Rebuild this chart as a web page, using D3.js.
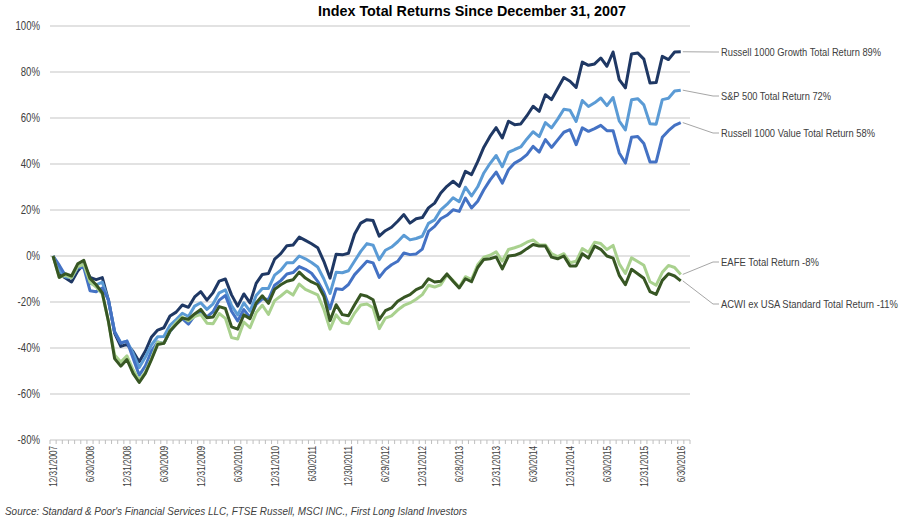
<!DOCTYPE html>
<html>
<head>
<meta charset="utf-8">
<script src="https://cdn.jsdelivr.net/npm/d3@7"></script>
<style>
  html, body { margin: 0; padding: 0; background: #fff; }
  svg { display: block; }
  text { font-family: "Liberation Sans Narrow", "Arial Narrow", "Liberation Sans", sans-serif; }
</style>
</head>
<body>
<svg id="chart" width="904" height="521"></svg>
<script>
// Month-end categories, 12/31/2007 .. 6/30/2016 (103 points), every 6th is labelled
const tickLabels = ["12/31/2007", "6/30/2008", "12/31/2008", "6/30/2009", "12/31/2009",
  "6/30/2010", "12/31/2010", "6/30/2011", "12/30/2011", "6/29/2012", "12/31/2012",
  "6/28/2013", "12/31/2013", "6/30/2014", "12/31/2014", "6/30/2015", "12/31/2015", "6/30/2016"];

const yTicks = [100, 80, 60, 40, 20, 0, -20, -40, -60, -80];

// cumulative total return, %
const growth = [
  0, -7.8, -9.6, -11.3, -6.5, -3.4, -9.3, -10.3, -9.4, -19.3, -33.5, -39.3, -38.4,
  -41.5, -46.0, -41.3, -35.2, -32.2, -31.2, -26.1, -24.4, -21.3, -22.3, -17.8, -15.5,
  -19.2, -15.9, -10.9, -10.0, -16.9, -21.8, -16.5, -20.4, -11.9, -8.0, -7.6, -1.4,
  1.0, 4.5, 4.8, 8.2, 6.8, 5.3, 3.6, -2.3, -9.6, 0.8, 0.5, 1.2,
  9.6, 14.3, 15.8, 15.4, 8.6, 11.0, 12.5, 15.1, 18.0, 14.3, 16.2, 16.7,
  20.9, 23.0, 27.4, 30.3, 32.5, 30.3, 36.8, 35.4, 41.0, 47.3, 52.0, 55.8,
  51.3, 58.6, 57.1, 57.4, 61.0, 65.1, 62.9, 70.1, 68.0, 72.8, 77.6, 76.0,
  73.3, 84.3, 82.9, 83.5, 86.1, 82.5, 88.7, 76.7, 73.1, 87.8, 88.3, 85.6,
  75.2, 75.4, 86.8, 85.4, 88.7, 88.8];

const sp500 = [
  0, -6.0, -9.1, -9.4, -5.0, -3.8, -11.9, -12.6, -11.4, -19.3, -32.8, -37.7, -37.0,
  -42.3, -48.5, -43.9, -38.6, -35.1, -35.0, -30.1, -27.6, -24.9, -26.3, -21.8, -20.3,
  -23.2, -20.8, -16.0, -14.7, -21.5, -25.6, -20.4, -24.0, -17.2, -14.1, -14.1, -8.3,
  -6.2, -2.9, -2.9, 0.0, -1.2, -2.8, -4.8, -10.0, -16.3, -7.1, -7.3, -6.4,
  -2.2, 2.0, 5.4, 4.7, -1.6, 2.5, 3.9, 6.2, 9.0, 7.0, 7.6, 8.6,
  14.2, 15.7, 20.1, 22.4, 25.3, 23.6, 29.9, 26.1, 30.1, 36.1, 40.2, 43.7,
  38.8, 45.1, 46.3, 47.4, 50.9, 54.0, 51.9, 58.0, 55.7, 59.5, 63.8, 63.4,
  58.5, 67.6, 65.0, 66.6, 68.7, 65.4, 68.9, 58.7, 54.8, 67.9, 68.4, 65.7,
  57.5, 57.3, 68.0, 68.6, 71.7, 72.1];

const value = [
  0, -4.0, -8.5, -9.3, -4.9, -5.1, -15.1, -15.5, -13.9, -19.0, -33.0, -37.9, -37.0,
  -44.5, -51.8, -47.8, -41.3, -37.4, -38.0, -32.8, -29.5, -27.2, -29.6, -25.9, -24.4,
  -26.5, -24.2, -19.2, -17.2, -24.0, -28.2, -23.3, -26.7, -21.0, -18.6, -18.9, -12.7,
  -10.7, -7.8, -7.2, -4.6, -5.8, -7.5, -11.0, -15.8, -23.0, -14.2, -14.6, -12.4,
  -8.1, -5.2, -2.3, -3.0, -9.3, -5.9, -3.8, -2.3, 1.3, 0.6, 0.9, 3.0,
  10.7, 12.9, 16.2, 17.7, 20.1, 19.4, 25.2, 20.9, 23.8, 28.8, 33.0, 36.5,
  31.7, 37.5, 40.4, 41.9, 44.1, 47.7, 45.2, 50.6, 47.2, 50.5, 53.8, 54.9,
  48.4, 55.7, 54.2, 55.4, 56.8, 54.5, 54.5, 44.8, 40.4, 51.6, 52.0, 48.9,
  40.9, 40.9, 51.6, 54.5, 56.8, 58.0];

const eafe = [
  0, -9.3, -8.4, -9.5, -4.6, -3.7, -11.3, -13.5, -16.5, -28.6, -43.0, -46.1, -43.4,
  -49.5, -54.0, -50.5, -44.5, -37.5, -38.0, -32.5, -29.0, -26.5, -28.2, -26.3, -25.4,
  -29.2, -29.5, -25.0, -27.1, -35.5, -36.1, -28.7, -31.2, -24.6, -21.4, -25.4, -19.4,
  -17.4, -15.2, -17.0, -12.2, -14.5, -15.7, -16.9, -23.2, -31.8, -25.6, -28.9, -29.5,
  -24.8, -21.3, -20.9, -22.5, -31.6, -27.0, -26.0, -23.5, -21.5, -20.4, -18.8, -16.8,
  -12.7, -13.5, -12.5, -8.2, -10.6, -13.6, -9.0, -10.3, -3.8, -0.5, 0.3, 1.8,
  -2.2, 2.8, 3.6, 4.5, 6.0, 7.0, 4.8, 4.8, 1.0, -0.3, 1.0, -2.9,
  -2.3, 3.2, 1.6, 6.0, 5.4, 2.8, 4.6, -3.4, -7.6, -0.8, -2.4, -4.0,
  -11.2, -12.7, -7.1, -4.1, -5.0, -8.0];

const acwi = [
  0, -9.3, -7.7, -8.7, -3.4, -1.9, -9.8, -12.5, -16.0, -28.5, -44.6, -47.9, -45.0,
  -51.0, -55.0, -51.0, -45.0, -38.5, -38.0, -32.6, -29.8, -27.0, -27.5, -25.2, -23.2,
  -26.8, -26.5, -22.0, -22.8, -30.8, -31.8, -25.6, -27.3, -20.4, -17.3, -20.6, -14.5,
  -12.5, -11.0, -10.3, -7.0, -9.6, -11.3, -12.5, -17.5, -28.1, -21.2, -25.5, -26.0,
  -21.2, -16.8, -17.5, -19.0, -27.7, -23.8, -22.6, -19.7, -18.0, -16.8, -14.6, -13.4,
  -9.9, -11.3, -11.0, -7.8, -11.0, -13.9, -9.9, -11.2, -5.0, -1.5, -1.2, -0.4,
  -5.6, 0.0, 0.3, 1.3, 3.2, 5.0, 4.3, 4.3, -0.5, -1.2, 0.0, -4.3,
  -4.3, 1.0, -0.9, 4.3, 2.9, 0.0, -0.9, -8.4, -12.5, -5.8, -7.7, -9.7,
  -15.5, -16.7, -10.6, -7.7, -8.7, -10.8];

const seriesNames = ["Russell 1000 Growth Total Return 89%", "S&P 500 Total Return 72%",
  "Russell 1000 Value Total Return 58%", "EAFE Total Return -8%",
  "ACWI ex USA Standard Total Return -11%"];

const series = [
  { name: seriesNames[0], values: growth, color: "#1f3864", labelY: 52, w: 160 },
  { name: seriesNames[1], values: sp500, color: "#5b9bd5", labelY: 96, w: 110 },
  { name: seriesNames[2], values: value, color: "#4472c4", labelY: 133, w: 154 },
  { name: seriesNames[3], values: eafe, color: "#a9d18e", labelY: 262, w: 98 },
  { name: seriesNames[4], values: acwi, color: "#375623", labelY: 304, w: 177 }
];

const svg = d3.select("#chart");
const plotLeft = 50, plotRight = 690, plotTop = 26, plotBottom = 440;
// no narrow font installed, so squeeze the regular sans horizontally
const narrow = 0.8;

// one extra empty slot after the last month, like the original axis
const x = d3.scaleBand().domain(d3.range(104)).range([plotLeft, plotRight]);
const cx = i => x(i) + x.bandwidth() / 2;
const y = d3.scaleLinear().domain([-80, 100]).range([plotBottom, plotTop]);

// title
svg.append("text")
  .attr("x", 472).attr("y", 16)
  .attr("text-anchor", "middle")
  .attr("font-size", 15).attr("font-weight", "bold")
  .attr("fill", "#000")
  .attr("textLength", 308).attr("lengthAdjust", "spacingAndGlyphs")
  .text("Index Total Returns Since December 31, 2007");

// gridlines
svg.append("g").selectAll("line")
  .data(yTicks)
  .enter().append("line")
  .attr("x1", plotLeft).attr("x2", plotRight)
  .attr("y1", d => y(d)).attr("y2", d => y(d))
  .attr("stroke", "#d9d9d9").attr("stroke-width", 1.3);

// y labels
svg.append("g").selectAll("text")
  .data(yTicks)
  .enter().append("text")
  .attr("transform", d => `translate(40,${y(d)}) scale(${narrow},1)`)
  .attr("dy", "0.35em")
  .attr("text-anchor", "end")
  .attr("font-size", 12).attr("fill", "#404040")
  .text(d => d + "%");

// category ticks on the bottom axis
svg.append("g").selectAll("line")
  .data(d3.range(105))
  .enter().append("line")
  .attr("x1", i => plotLeft + i * x.step()).attr("x2", i => plotLeft + i * x.step())
  .attr("y1", plotBottom).attr("y2", plotBottom + 4)
  .attr("stroke", "#bfbfbf").attr("stroke-width", 1);

// x labels
svg.append("g").selectAll("text")
  .data(tickLabels)
  .enter().append("text")
  .attr("transform", (d, k) => `translate(${cx(k * 6) + 4},446) rotate(-90) scale(0.74,1)`)
  .attr("text-anchor", "end")
  .attr("font-size", 11).attr("fill", "#404040")
  .text(d => d);

// lines
const line = d3.line().x((d, i) => cx(i)).y(d => y(d));
svg.append("g").selectAll("path")
  .data(series)
  .enter().append("path")
  .attr("d", d => line(d.values))
  .attr("fill", "none")
  .attr("stroke", d => d.color)
  .attr("stroke-width", 3)
  .attr("stroke-linejoin", "round");

// leader lines and labels
const last = 102;
series.forEach(s => {
  const px = cx(last) + 2, py = y(s.values[last]);
  svg.append("polyline")
    .attr("points", `${px},${py} ${713},${s.labelY} ${719},${s.labelY}`)
    .attr("fill", "none").attr("stroke", "#a6a6a6").attr("stroke-width", 1);
  svg.append("text")
    .attr("x", 721).attr("y", s.labelY)
    .attr("dy", "0.35em")
    .attr("font-size", 11.5).attr("fill", "#404040")
    .attr("textLength", s.w).attr("lengthAdjust", "spacingAndGlyphs")
    .text(s.name);
});

// source
svg.append("text")
  .attr("x", 5).attr("y", 515)
  .attr("font-size", 11).attr("font-style", "italic").attr("fill", "#404040")
  .attr("textLength", 462).attr("lengthAdjust", "spacingAndGlyphs")
  .text("Source:  Standard & Poor's Financial Services LLC, FTSE Russell, MSCI INC., First Long Island Investors");
</script>
</body>
</html>
